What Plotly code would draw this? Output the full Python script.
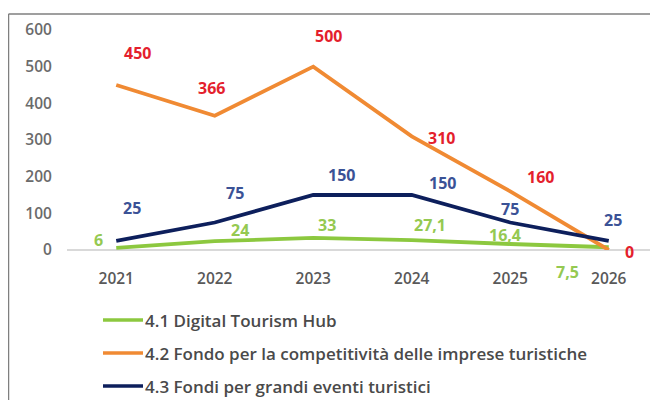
import plotly.graph_objects as go

years = ["2021", "2022", "2023", "2024", "2025", "2026"]
digital_hub = [6, 24, 33, 27.1, 16.4, 7.5]
fondo_competitivita = [450, 366, 500, 310, 160, 0]
grandi_eventi = [25, 75, 150, 150, 75, 25]
series_names = [
    "4.1 Digital Tourism Hub",
    "4.2 Fondo per la competitività delle imprese turistiche",
    "4.3 Fondi per grandi eventi turistici",
]
y_ticks = [0, 100, 200, 300, 400, 500, 600]

# styling / label placement (pixel offsets from each point)
colors_line = ["#8cc83f", "#f08a33", "#0d1f5c"]
colors_label = ["#95c951", "#e41f2d", "#3b5296"]
label_offsets = [
    [(-18, 8), (25, 11), (14, 13), (18, 15), (-5, 9), (-41, -25)],
    [(21, 32), (-3, 28), (15, 31), (30, -2), (30, 14), (21, -2)],
    [(16, 33), (20, 30), (28, 20), (31, 12), (0, 14), (4, 21)],
]

FONT = "Open Sans"
all_series = [digital_hub, fondo_competitivita, grandi_eventi]

# page offset of the body margin (8px) is compensated
OFF = 8
W, H = 658 - OFF, 400 - OFF
L, R, T, B = 67 - OFF, 0, 30 - OFF, H - (250 - OFF)
pw, ph = W - L - R, H - T - B

def px(xp):
    return (xp - OFF - L) / pw

def py(yp):
    return (H - B - (yp - OFF)) / ph

fig = go.Figure()
for i, (vals, name) in enumerate(zip(all_series, series_names)):
    fig.add_trace(go.Scatter(
        x=years, y=vals, name=name, mode="lines",
        line=dict(color=colors_line[i], width=3.8),
        cliponaxis=False, showlegend=False,
    ))

annotations = []
for i, vals in enumerate(all_series):
    for j, v in enumerate(vals):
        txt = (f"{v:g}").replace(".", ",")
        dx, dy = label_offsets[i][j]
        annotations.append(dict(
            x=j, y=v, xref="x", yref="y", text=txt,
            showarrow=False, xshift=dx, yshift=dy,
            font=dict(family=FONT, size=16, weight=700, color=colors_label[i]),
        ))

shapes = [
    dict(type="line", xref="paper", yref="paper", x0=px(8.5), x1=px(662), y0=py(14), y1=py(14),
         line=dict(color="#7f7f7f", width=1.5)),
    dict(type="line", xref="paper", yref="paper", x0=px(8.5), x1=px(8.5), y0=py(14), y1=py(404),
         line=dict(color="#7f7f7f", width=1.5)),
]

# legend drawn as line samples + text
legend_rows = [320, 353, 386]
for i, name in enumerate(series_names):
    yy = py(legend_rows[i])
    shapes.append(dict(type="line", xref="paper", yref="paper",
                       x0=px(103), x1=px(143), y0=yy, y1=yy,
                       line=dict(color=colors_line[i], width=3.5)))
    annotations.append(dict(x=px(143), y=yy, xref="paper", yref="paper",
                            text=name, showarrow=False, xanchor="left", yanchor="middle",
                            font=dict(family=FONT, size=17, weight=600, color="#4a4a4a")))

fig.update_layout(
    width=W, height=H,
    margin=dict(l=L, r=R, t=T, b=B),
    paper_bgcolor="white", plot_bgcolor="white",
    font=dict(family=FONT, color="#595959"),
    xaxis=dict(
        type="category", categoryorder="array", categoryarray=years,
        range=[-0.5, len(years) - 0.5],
        showgrid=False, zeroline=False, showline=False,
        ticks="outside", ticklen=14, tickcolor="rgba(0,0,0,0)",
        tickfont=dict(family=FONT, size=15.5, weight=600, color="#595959"),
    ),
    yaxis=dict(
        range=[0, 600], tickvals=y_ticks, showgrid=False,
        zeroline=True, zerolinecolor="#d9d9d9", zerolinewidth=1.5, showline=False,
        ticks="outside", ticklen=11, tickcolor="rgba(0,0,0,0)",
        tickfont=dict(family=FONT, size=15.5, weight=600, color="#6b6b6b"),
    ),
    showlegend=False,
    annotations=annotations,
    shapes=shapes,
)

fig.write_html("out.html")
